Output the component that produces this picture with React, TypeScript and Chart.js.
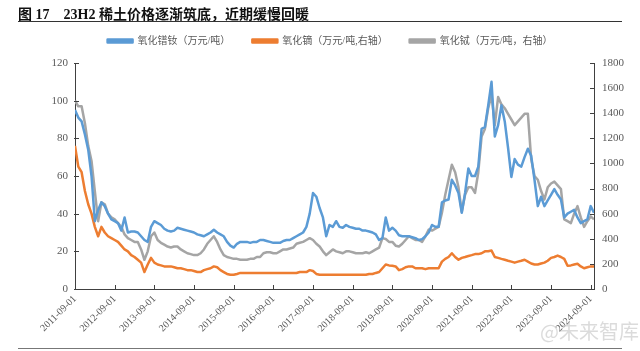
import React, { useEffect, useRef } from "react";
import { Chart, registerables } from "chart.js";

Chart.register(...registerables);

const TITLE = "图 17　23H2 稀土价格逐渐筑底，近期缓慢回暖";
const WATERMARK = "@未来智库";

const seriesNames = [
  "氧化镨钕（万元/吨）",
  "氧化镝（万元/吨,右轴）",
  "氧化铽（万元/吨，右轴）",
];

// monthly points, first point = 2011-09
const xTickLabels = [
  "2011-09-01", "2012-09-01", "2013-09-01", "2014-09-01", "2015-09-01",
  "2016-09-01", "2017-09-01", "2018-09-01", "2019-09-01", "2020-09-01",
  "2021-09-01", "2022-09-01", "2023-09-01", "2024-09-01",
];

// 氧化镨钕 (left axis)
const prNdValues = [
  95, 91, 89, 82, 74, 60, 36, 42, 46, 44,
  40, 37, 36, 35, 31, 38, 30, 30.5, 30.5, 30,
  28, 26, 25, 33, 36, 35, 34, 32, 31, 30.5,
  31, 32.5, 32, 31.5, 31, 30.5, 30, 29, 28.5, 28,
  29, 30, 31.5, 30, 29, 28, 25, 23, 22, 24,
  25, 25, 25, 24.5, 25, 25, 26, 26, 25.5, 25,
  24.5, 24.5, 24.5, 25.5, 26, 26, 27, 28, 29, 30,
  33, 40, 51, 49, 43, 38, 28, 34, 33, 36,
  33, 32.5, 34, 33, 32.5, 32, 32, 31, 31, 30.5,
  30, 29, 26, 27, 38, 31, 32.5, 31, 28.5, 28,
  28, 28, 27.5, 27, 26, 26.5, 28, 30, 34, 33,
  33, 46, 47, 47.5, 58, 55, 51, 40.5, 51, 64,
  60, 60, 65, 85, 86, 97.5, 110, 81, 87, 97.5,
  89, 75, 59.5, 69, 66, 65, 70, 74.5, 70.7, 58,
  44, 49, 44, 47, 50, 53, 50, 47.5, 38, 40,
  41, 42, 38, 35, 36, 37, 44, 40.5,
];

// 氧化镝 (right axis)
const dyValues = [
  1140, 975, 930, 780, 675, 600, 495, 420, 495, 450,
  420, 405, 390, 375, 345, 315, 300, 270, 255, 233,
  210, 135, 195, 248, 210, 195, 188, 180, 180, 180,
  173, 165, 165, 158, 150, 150, 143, 135, 135, 150,
  158, 165, 180, 173, 150, 135, 120, 113, 113, 120,
  128, 128, 128, 128, 128, 128, 128, 128, 128, 128,
  128, 128, 128, 128, 128, 128, 128, 128, 135, 135,
  135, 150, 143, 120, 113, 113, 113, 113, 113, 113,
  113, 113, 113, 113, 113, 113, 113, 113, 113, 120,
  120, 128, 135, 165, 195, 188, 185, 180, 150, 158,
  173, 180, 180, 165, 165, 165, 158, 165, 165, 165,
  165, 218, 240, 255, 285, 255, 233, 248, 255, 263,
  270, 278, 278, 285, 300, 300, 306, 255, 248, 240,
  233, 225, 218, 210, 218, 225, 233, 218, 203, 195,
  195, 203, 210, 225, 248, 255, 266, 255, 240, 185,
  188, 195, 201, 180, 165, 173, 180, 180,
];

// 氧化铽 (right axis)
const tbValues = [
  1500, 1455, 1455, 1320, 1140, 1020, 780, 540, 690, 675,
  600, 570, 555, 525, 495, 435, 405, 390, 375, 375,
  315, 233, 300, 420, 450, 390, 368, 353, 338, 330,
  338, 338, 315, 300, 285, 278, 270, 270, 285, 315,
  360, 390, 420, 375, 315, 270, 255, 248, 240, 240,
  233, 233, 233, 240, 240, 255, 255, 285, 293, 293,
  285, 285, 300, 315, 315, 323, 330, 360, 368, 375,
  390, 405, 390, 360, 338, 300, 270, 293, 315, 300,
  293, 285, 300, 300, 293, 285, 285, 285, 293, 285,
  300, 315, 330, 405, 398, 375, 375, 345, 338, 360,
  390, 420, 405, 390, 390, 375, 420, 473, 465, 480,
  495, 608, 750, 870, 990, 930, 810, 615, 750, 810,
  810, 765, 930, 1215, 1275, 1440, 1545, 1305, 1530, 1470,
  1440, 1395, 1350, 1305, 1335, 1365, 1395, 1395, 1035, 900,
  870, 780, 713, 810, 840, 855, 825, 795, 555, 540,
  525, 600, 660, 570, 495, 540, 578, 555,
];

const leftAxis = { min: 0, max: 120, step: 20 };
const rightAxis = { min: 0, max: 1800, step: 200 };

const COLORS = ["#5B9BD5", "#ED7D31", "#A5A5A5"];
const SERIF = '"Liberation Serif", "Times New Roman", serif';
const CJK = '"Liberation Serif", "Noto Sans CJK SC", sans-serif';

const toPoints = (vals: number[]) => vals.map((v, i) => ({ x: i, y: v }));

const insideTicks = {
  id: "insideTicks",
  afterDraw(chart: any) {
    const { ctx } = chart;
    const { x, y, y1 } = chart.scales;
    ctx.save();
    ctx.strokeStyle = "#404040";
    ctx.lineWidth = 1;
    ctx.beginPath();
    y.ticks.forEach((t: any) => {
      const py = Math.round(y.getPixelForValue(t.value)) + 0.5;
      ctx.moveTo(y.right - 1, py);
      ctx.lineTo(y.right + 4, py);
    });
    y1.ticks.forEach((t: any) => {
      const py = Math.round(y1.getPixelForValue(t.value)) + 0.5;
      ctx.moveTo(y1.left - 4, py);
      ctx.lineTo(y1.left + 1, py);
    });
    x.ticks.forEach((t: any) => {
      const px = Math.round(x.getPixelForValue(t.value)) + 0.5;
      ctx.moveTo(px, x.top + 1);
      ctx.lineTo(px, x.top - 4);
    });
    ctx.stroke();
    ctx.restore();
  },
};

const legendGap = {
  id: "legendGap",
  beforeInit(chart: any) {
    const legend = chart.legend;
    if (!legend) return;
    const fit = legend.fit;
    legend.fit = function () {
      fit.bind(legend)();
      this.height += 7;
    };
  },
};

export default function App() {
  const ref = useRef<HTMLCanvasElement | null>(null);

  useEffect(() => {
    document.body.style.margin = "0";
    if (!ref.current) return;
    const chart = new Chart(ref.current, {
      type: "line",
      data: {
        datasets: [
          { label: seriesNames[0], data: toPoints(prNdValues), yAxisID: "y", borderColor: COLORS[0], backgroundColor: COLORS[0] },
          { label: seriesNames[1], data: toPoints(dyValues), yAxisID: "y1", borderColor: COLORS[1], backgroundColor: COLORS[1] },
          { label: seriesNames[2], data: toPoints(tbValues), yAxisID: "y1", borderColor: COLORS[2], backgroundColor: COLORS[2] },
        ],
      },
      options: {
        animation: false,
        responsive: false,
        maintainAspectRatio: false,
        layout: { padding: { top: 14, left: 20, right: 0, bottom: 0 } },
        elements: {
          point: { radius: 0 },
          line: { borderWidth: 2.5, tension: 0, borderJoinStyle: "round" },
        },
        plugins: {
          tooltip: { enabled: false },
          legend: {
            position: "top",
            labels: {
              boxWidth: 25,
              boxHeight: 3,
              padding: 22,
              color: "#595959",
              font: { family: CJK, size: 10 },
            },
          },
        },
        scales: {
          x: {
            type: "linear",
            min: 0,
            max: prNdValues.length - 1,
            grid: { display: false, drawTicks: false },
            border: { display: true, color: "#404040", width: 1 },
            ticks: {
              stepSize: 12,
              includeBounds: false,
              autoSkip: false,
              maxRotation: 45,
              minRotation: 45,
              padding: 4,
              color: "#595959",
              font: { family: SERIF, size: 10 },
              callback: (v: any) => xTickLabels[Math.round(Number(v) / 12)] ?? "",
            },
            afterFit: (s: any) => {
              s.height = 62;
            },
          },
          y: {
            position: "left",
            min: leftAxis.min,
            max: leftAxis.max,
            grid: { display: false, drawTicks: false },
            border: { display: true, color: "#404040", width: 1 },
            ticks: {
              stepSize: leftAxis.step,
              padding: 7,
              color: "#595959",
              font: { family: SERIF, size: 11 },
              callback: (v: any) => String(v),
            },
            afterFit: (s: any) => {
              s.width = 55;
            },
          },
          y1: {
            position: "right",
            min: rightAxis.min,
            max: rightAxis.max,
            grid: { display: false, drawTicks: false },
            border: { display: true, color: "#404040", width: 1 },
            ticks: {
              stepSize: rightAxis.step,
              padding: 8,
              color: "#595959",
              font: { family: SERIF, size: 11 },
              callback: (v: any) => String(v),
            },
            afterFit: (s: any) => {
              s.width = 46;
            },
          },
        },
      },
      plugins: [insideTicks, legendGap],
    });
    return () => chart.destroy();
  }, []);

  return (
    <div style={{ position: "relative", width: 640, height: 351, background: "#fff", overflow: "hidden" }}>
      <canvas ref={ref} width={640} height={351} style={{ position: "absolute", left: 0, top: 0, display: "block" }} />
      <div
        style={{
          position: "absolute",
          left: 18,
          top: 3,
          font: `bold 14px ${CJK}`,
          color: "#111",
          whiteSpace: "pre",
        }}
      >
        {TITLE}
      </div>
      <div style={{ position: "absolute", left: 18, top: 21, width: 604, borderTop: "1.5px solid #333" }} />
      <div style={{ position: "absolute", left: 18, top: 348, width: 604, borderTop: "1.5px solid #777" }} />
      <div
        style={{
          position: "absolute",
          left: 540,
          top: 316,
          font: `20px "Noto Sans CJK SC", sans-serif`,
          color: "rgba(190,190,190,0.55)",
          pointerEvents: "none",
        }}
      >
        {WATERMARK}
      </div>
    </div>
  );
}
